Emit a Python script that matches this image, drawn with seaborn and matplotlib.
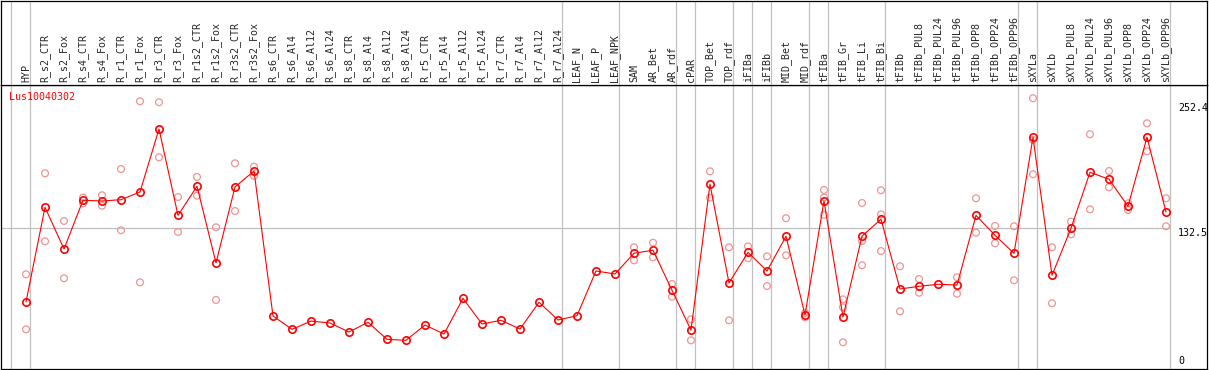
import numpy as np
import pandas as pd
import matplotlib
matplotlib.use("Agg")
import matplotlib.pyplot as plt
import seaborn as sns

# column labels (left to right)
samples = [
    "HYP", "R_s2_CTR", "R_s2_Fox", "R_s4_CTR", "R_s4_Fox", "R_r1_CTR", "R_r1_Fox",
    "R_r3_CTR", "R_r3_Fox", "R_r1s2_CTR", "R_r1s2_Fox", "R_r3s2_CTR", "R_r3s2_Fox",
    "R_s6_CTR", "R_s6_Al4", "R_s6_Al12", "R_s6_Al24", "R_s8_CTR", "R_s8_Al4",
    "R_s8_Al12", "R_s8_Al24", "R_r5_CTR", "R_r5_Al4", "R_r5_Al12", "R_r5_Al24",
    "R_r7_CTR", "R_r7_Al4", "R_r7_Al12", "R_r7_Al24", "LEAF_N", "LEAF_P", "LEAF_NPK",
    "SAM", "AR_Bet", "AR_rdf", "cPAR", "TOP_Bet", "TOP_rdf", "iFIBa", "iFIBb",
    "MID_Bet", "MID_rdf", "tFIBa", "tFIB_Gr", "tFIB_Li", "tFIB_Bi", "tFIBb",
    "tFIBb_PUL8", "tFIBb_PUL24", "tFIBb_PUL96", "tFIBb_OPP8", "tFIBb_OPP24",
    "tFIBb_OPP96", "sXYLa", "sXYLb", "sXYLb_PUL8", "sXYLb_PUL24", "sXYLb_PUL96",
    "sXYLb_OPP8", "sXYLb_OPP24", "sXYLb_OPP96",
]

# mean expression per sample
mean_vals = [
    58.9, 153.3, 111.7, 160.3, 159.6, 160.9, 168.6, 231.4, 145.3, 174.3, 97.8, 173.6, 189.5,
    44.9, 31.6, 39.8, 37.9, 28.9, 38.6, 21.6, 20.6, 35.9, 26.9, 62.5, 36.9,
    40.6, 31.9, 58.6, 40.9, 45.2, 89.8, 86.8,
    107.5, 110.5, 70.6, 30.8, 176.3, 77.8, 108.4, 89.8, 124.4, 45.9,
    159.6, 43.8, 124.5, 141.4, 71.8, 74.5, 76.5, 75.8, 145.3, 125.4, 107.4,
    223.2, 85.5, 132.4, 188.2, 181.3, 154.3, 223.2, 148.6,
]

# replicate values (None = no replicate shown)
_single = [None] * 19
rep1 = [86.5, 187.2, 139.7, 163.0, 165.3, 191.5, 259.1, 258.1, 163.6, 183.6, 133.4, 197.2, 193.8] + _single + [
    113.4, 118.0, 76.8, 41.6, 189.2, 113.4, 114.4, 104.4, 142.4, 47.9,
    170.6, 61.5, 157.6, 170.3, 94.5, 81.8, None, 83.5, 162.3, 134.7, 134.4,
    262.1, 113.4, 139.0, 226.2, 189.5, 157.3, 237.1, 162.3]
rep2 = [31.6, 119.4, 82.5, 157.3, 154.9, 130.4, 78.5, 203.2, 128.7, 164.9, 60.9, 149.6, 184.6] + _single + [
    100.4, 103.4, 64.1, 20.6, 162.9, 40.6, 102.5, 74.8, 105.4, 43.6,
    145.7, 18.7, 95.5, 109.7, 49.6, 68.1, None, 67.1, 128.0, 117.4, 80.5,
    186.3, 57.6, 126.4, 151.3, 173.3, 150.6, 209.2, 134.4]
rep3 = [None] * 42 + [163.2, 53.6, 119.7, 146.3] + [None] * 7 + [220.5] + [None] * 7

# last column of each group (vertical separators)
group_ends = [-1, 0, 28, 31, 34, 35, 37, 38, 39, 41, 42, 45, 52, 53, 60]

gene = "Lus10040302"
ytick_vals = [252.4, 132.5, 0]

n = len(samples)
pos = np.arange(n)
df_mean = pd.DataFrame({"pos": pos, "value": mean_vals})
reps = []
for r in (rep1, rep2, rep3):
    reps.append(pd.DataFrame({"pos": pos, "value": r}))
df_rep = pd.concat(reps).dropna()

sns.set_style("white")
plt.rcParams["font.family"] = ["DejaVu Sans Mono"]

W, H = 1209, 370
fig = plt.figure(figsize=(W / 100, H / 100), dpi=100)
x0, x1 = 1, 1207
ax = fig.add_axes([x0 / W, (H - 369) / H, (x1 - x0) / W, (369 - 85) / H])
hax = fig.add_axes([x0 / W, (H - 85) / H, (x1 - x0) / W, (85 - 0.5) / H])

xlim = ((x0 - 26) / 19, (x1 - 26) / 19)
grey = "#c0c0c0"

for a in (ax, hax):
    a.set_xlim(*xlim)
    for sp in a.spines.values():
        sp.set_color("black")
        sp.set_linewidth(0.9)
    a.set_xticks([])
    a.set_yticks([])
    for g in group_ends:
        a.axvline(g + 0.23, color=grey, lw=0.9, zorder=0)

ax.set_ylim(-7.98, 275.3)
ax.hlines(132.5, xlim[0], 60.23, color=grey, lw=0.9, zorder=0)

sns.scatterplot(data=df_rep, x="pos", y="value", ax=ax, marker="o",
                facecolor="none", edgecolor="#ee9494", linewidth=0.9, s=24,
                zorder=2, legend=False)
sns.lineplot(data=df_mean, x="pos", y="value", ax=ax, color="red", lw=0.8,
             marker="o", markersize=5.3, markerfacecolor="none",
             markeredgecolor="red", markeredgewidth=1.2, zorder=3)
ax.set_xlabel("")
ax.set_ylabel("")

ax.text(0.0065, 0.975, gene, transform=ax.transAxes, color="red",
        fontsize=7.2, ha="left", va="top")

for v in ytick_vals:
    va = "top" if v == 132.5 else "center"
    ax.text((1178 - 26) / 19, v, f"{v:g}", fontsize=7.2, ha="left", va=va,
            color="black")

hax.set_ylim(0, 1)
for i, lab in enumerate(samples):
    hax.text(i, 0.03, lab, rotation=90, ha="center", va="bottom", fontsize=7.2)

fig.savefig("out.png", dpi=100)
